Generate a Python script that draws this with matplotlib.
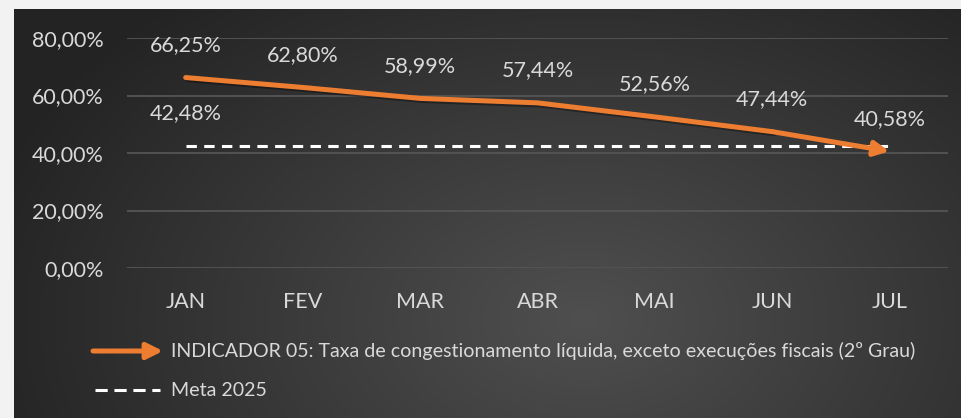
import numpy as np
import matplotlib.pyplot as plt
import matplotlib.patheffects as pe
from matplotlib.lines import Line2D
from matplotlib.patches import FancyArrowPatch

plt.rcParams['font.family'] = ['Lato', 'DejaVu Sans']

# Data
meses = ['JAN', 'FEV', 'MAR', 'ABR', 'MAI', 'JUN', 'JUL']
indicador = [66.25, 62.80, 58.99, 57.44, 52.56, 47.44, 40.58]
meta = 42.48
yticks = [0, 20, 40, 60, 80]

txt = '#d9d9d9'
laranja = '#ed7d31'
W, H = 962, 418
fs = 15.5

fig = plt.figure(figsize=(W / 100, H / 100), dpi=100)
fig.patch.set_facecolor('#f2f2f2')

# dark panel with radial gradient
bg = fig.add_axes([14 / W, 0, 1 - 14 / W, 1 - 9 / H])
yy, xx = np.mgrid[0:409, 0:948]
d = np.sqrt(((xx - 570) / 620.0) ** 2 + ((yy - 310) / 420.0) ** 2)
shade = np.clip(0.31 - 0.17 * d, 0.14, 0.31)
bg.imshow(np.dstack([shade] * 3), aspect='auto', extent=[0, 1, 0, 1])
bg.set_axis_off()

ax = fig.add_axes([127 / W, (H - 268) / H, 821 / W, 230 / H])
ax.set_facecolor('none')
x = np.arange(len(meses))
ax.set_xlim(-0.5, len(meses) - 0.5)
ax.set_ylim(0, 80)

for v in yticks:
    ax.axhline(v, color='#555555', lw=1.3, zorder=1)

ax.plot([x[0], x[-1]], [meta, meta], color='white', lw=2.2, ls=(0, (3.4, 2.4)), zorder=3)

sombra = [pe.SimpleLineShadow(offset=(1.5, -1.5), alpha=0.35), pe.Normal()]
ax.plot(x[:-1], indicador[:-1], color=laranja, lw=3.6, solid_capstyle='round',
        zorder=4, path_effects=sombra)
ax.annotate('', xy=(x[-1], indicador[-1]), xytext=(x[-2], indicador[-2]),
            arrowprops=dict(arrowstyle='-|>', color=laranja, lw=3.6,
                            mutation_scale=22, shrinkA=0, shrinkB=0),
            zorder=4)

for xi, v in zip(x, indicador):
    ax.annotate(f'{v:.2f}%'.replace('.', ','), (xi, v), xytext=(0, 23.5),
                textcoords='offset points', ha='center', va='center',
                color=txt, fontsize=fs)
ax.annotate(f'{meta:.2f}%'.replace('.', ','), (x[0], meta), xytext=(0, 23.5),
            textcoords='offset points', ha='center', va='center',
            color=txt, fontsize=fs)

ax.set_yticks(yticks)
ax.set_yticklabels([f'{v:.2f}%'.replace('.', ',') for v in yticks])
ax.set_xticks(x)
ax.set_xticklabels(meses)
ax.tick_params(length=0, colors=txt, labelsize=fs)
ax.tick_params(axis='y', pad=17)
ax.tick_params(axis='x', pad=17)
for s in ax.spines.values():
    s.set_visible(False)

# legend
fig.patches.append(FancyArrowPatch((93 / W, 1 - 351 / H), (163 / W, 1 - 351 / H),
                                   transform=fig.transFigure, arrowstyle='-|>',
                                   color=laranja, lw=3.6, mutation_scale=24,
                                   shrinkA=0, shrinkB=0))
fig.lines.append(Line2D([95 / W, 160 / W], [1 - 390 / H] * 2, transform=fig.transFigure,
                        color='white', lw=2.2, ls=(0, (4.0, 2.2))))
fig.text(171 / W, 1 - 351 / H,
         'INDICADOR 05: Taxa de congestionamento líquida, exceto execuções fiscais (2º Grau)',
         color=txt, fontsize=14.1, va='center')
fig.text(171 / W, 1 - 390 / H, 'Meta 2025', color=txt, fontsize=14.1, va='center')

fig.savefig('out.png', dpi=100, facecolor=fig.get_facecolor())
